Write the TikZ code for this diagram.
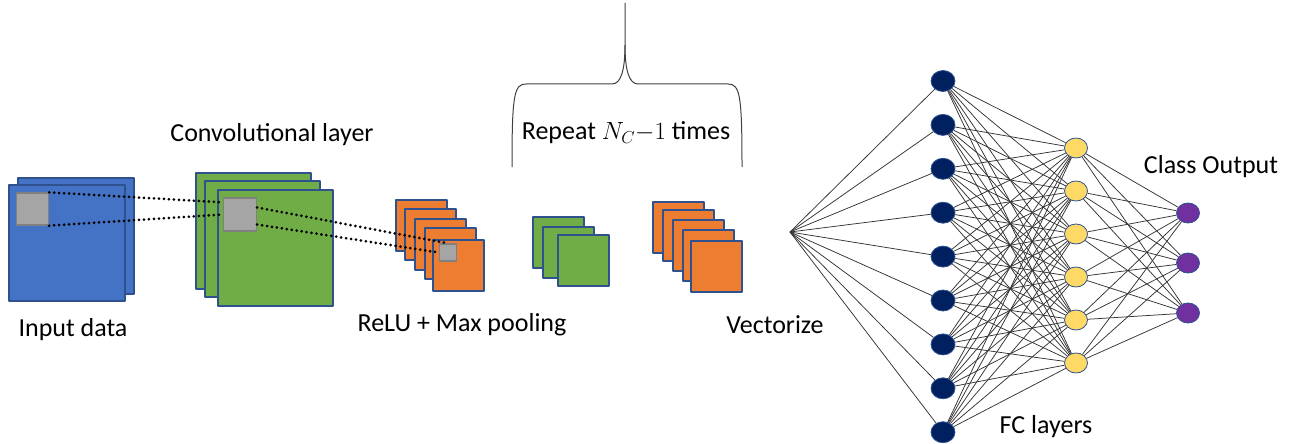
\documentclass[tikz,border=0pt]{standalone}
\usepackage{fontspec}
\setmainfont{Carlito}
\usetikzlibrary{shapes.geometric}

\definecolor{inblue}{HTML}{4472C4}
\definecolor{edgeblue}{HTML}{2F528F}
\definecolor{convgreen}{HTML}{70AD47}
\definecolor{poolorange}{HTML}{ED7D31}
\definecolor{patchgray}{HTML}{A5A5A5}
\definecolor{navy}{HTML}{002060}
\definecolor{fcyellow}{HTML}{FFD966}
\definecolor{outpurple}{HTML}{7030A0}

\begin{document}
\begin{tikzpicture}[x=1pt,y=-1pt,line join=round,
  every node/.style={inner sep=0pt,font=\fontsize{26}{30}\selectfont},
  fmap/.style={draw=edgeblue,line width=1.2pt},
  patch/.style={draw=black!50,fill=patchgray,line width=1.3pt},
  neuron/.style={ellipse,draw=edgeblue,line width=0.8pt,minimum width=24pt,minimum height=21pt},
  link/.style={line width=0.75pt,black!80},
  rf/.style={line width=3pt,dash pattern=on 0pt off 5pt,line cap=round}]
  \useasboundingbox (0,0) rectangle (1291,444);
  \filldraw[fmap,fill=inblue] (18,178) rectangle (134,294);
  \filldraw[fmap,fill=inblue] (9,185) rectangle (125,301);
  \foreach \x/\y in {196/173,205/181,218/190}
    \filldraw[fmap,fill=convgreen] (\x,\y) rectangle ++(115,116);
  \foreach \x/\y in {396/200,405/209,415/219,425/228,433/240}
    \filldraw[fmap,fill=poolorange] (\x,\y) rectangle ++(51,51);
  \foreach \x/\y in {533/217,543/227,558/235}
    \filldraw[fmap,fill=convgreen] (\x,\y) rectangle ++(51,51);
  \foreach \x/\y in {653/202,663/210,673/220,683/230,691/241}
    \filldraw[fmap,fill=poolorange] (\x,\y) rectangle ++(51,51);
  \node[patch,minimum size=32pt] (inpatch) at (32.5,209) {};
  \node[patch,minimum size=33pt] (convpatch) at (240,214.5) {};
  \node[patch,minimum size=17pt] (poolpatch) at (448,252.5) {};
  \draw[rf] (inpatch.north east) -- ([yshift=-5pt]convpatch.north west);
  \draw[rf] (inpatch.south east) -- (convpatch.west);
  \draw[rf] ([yshift=7pt]convpatch.east) -- (poolpatch.north);
  \draw[rf] ([yshift=-10pt]convpatch.east) -- (poolpatch.west);
  \draw[line width=1pt,black!75] (512,167) .. controls (512,95) and (514,84) .. (526,84) -- (612,84)
    .. controls (621,84) and (625,70) .. (625,45) -- (625,3);
  \draw[line width=1pt,black!75] (742,167) .. controls (742,95) and (740,84) .. (728,84) -- (638,84)
    .. controls (629,84) and (625,70) .. (625,45);
  \node (inlbl) at (73,330) {Input data};
  \node (convlbl) at (272,135) {Convolutional layer};
  \node (replbl) at (626,133) {Repeat $N_C{-}1$ times};
  \node (poollbl) at (462,325) {ReLU + Max pooling};
  \node (veclbl) at (775,325) {Vectorize};
  \node (fclbl) at (1046,427) {FC layers};
  \node (outlbl) at (1211,167) {Class Output};
  \coordinate (vec) at (790,232);
  \foreach \i in {1,...,9}
    \node[neuron,fill=navy] (h\i) at (943,{81+43.9*(\i-1)}) {};
  \foreach \i in {1,...,6}
    \node[neuron,fill=fcyellow,minimum width=23pt,minimum height=20pt] (f\i) at (1076,{148+43*(\i-1)}) {};
  \foreach \i in {1,...,3}
    \node[neuron,fill=outpurple,minimum width=23pt,minimum height=20pt] (o\i) at (1188,{213+50*(\i-1)}) {};
  \foreach \i in {1,...,9} {
    \draw[link] (vec) -- (h\i);
    \foreach \j in {1,...,6}
      \draw[link] (h\i) -- (f\j);
  }
  \foreach \j in {1,...,6}
    \foreach \k in {1,...,3}
      \draw[link] (f\j) -- (o\k);
\end{tikzpicture}
\end{document}
